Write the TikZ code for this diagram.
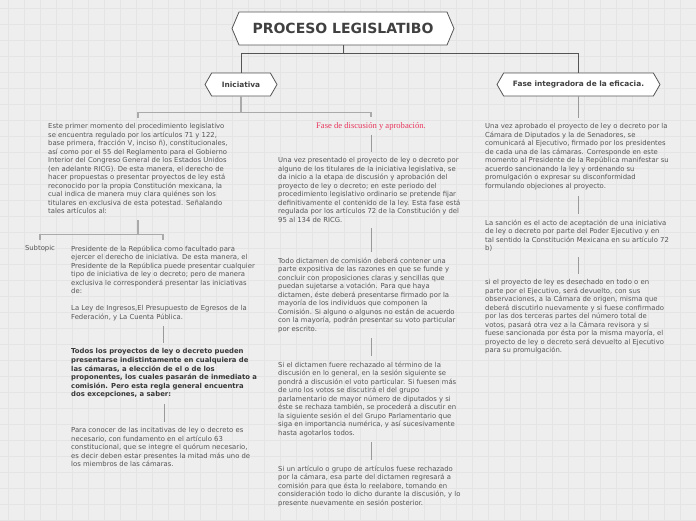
\documentclass[tikz,border=0pt]{standalone}
\usepackage{fontspec}
\setmainfont{DejaVu Sans}
\newfontfamily\redserif{Liberation Serif}
\usetikzlibrary{shapes.symbols}

\definecolor{bgpaper}{HTML}{EEEEEE}
\definecolor{gridgray}{HTML}{E4E4E4}
\definecolor{boxline}{HTML}{555555}
\definecolor{txtgray}{HTML}{555555}
\definecolor{linkgray}{HTML}{9A9A9A}
\definecolor{busgray}{HTML}{AAAAAA}
\definecolor{fasered}{HTML}{E8365D}

\tikzset{
  hexa/.style={signal, signal to=west and east, signal pointer angle=120,
    draw=boxline, fill=white, line width=0.8pt, text=black!75,
    font=\bfseries\fontsize{7.4}{9}\selectfont, minimum height=23pt},
  txt/.style={align=left, anchor=north west, inner xsep=0pt, inner ysep=5.5pt,
    text=txtgray, font=\fontsize{6.85}{8.5}\selectfont},
  toplink/.style={draw=boxline, line width=0.9pt},
  buslink/.style={draw=busgray, line width=1.2pt},
  link/.style={draw=linkgray, line width=0.9pt},
}

\begin{document}
\begin{tikzpicture}[x=1pt,y=-1pt]
  \useasboundingbox (0,0) rectangle (696,520);
  \fill[bgpaper] (0,0) rectangle (696,520);
  \foreach \gx in {8,24,...,696} \draw[gridgray,line width=0.4pt] (\gx,0)--(\gx,520);
  \foreach \gy in {8,24,...,520} \draw[gridgray,line width=0.4pt] (0,\gy)--(696,\gy);

  % main topics
  \node[hexa, minimum width=222pt, minimum height=33pt, signal pointer angle=134,
    font=\bfseries\fontsize{14}{16}\selectfont] (title) at (343,28.5) {PROCESO LEGISLATIBO};
  \node[hexa, minimum width=72pt] (ini) at (241,84.5) {Iniciativa};
  \node[hexa, minimum width=163pt] (efic) at (578.5,84.5) {Fase integradora de la eficacia.};
  \draw[toplink] (title.south) -- ++(0,8) -| (ini.north);
  \draw[toplink] (title.south) ++(0,8) -| (efic.north);

  % Iniciativa
  \node[txt] (intro) at (48,118) {Este primer momento del procedimiento legislativo\\
    se encuentra regulado por los artículos 71 y 122,\\
    base primera, fracción V, inciso ñ), constitucionales,\\
    así como por el 55 del Reglamento para el Gobierno\\
    Interior del Congreso General de los Estados Unidos\\
    (en adelante RICG). De esta manera, el derecho de\\
    hacer propuestas o presentar proyectos de ley está\\
    reconocido por la propia Constitución mexicana, la\\
    cual indica de manera muy clara quiénes son los\\
    titulares en exclusiva de esta potestad. Señalando\\
    tales artículos al:};
  \node[font=\redserif\fontsize{8.6}{10}\selectfont, text=fasered, minimum height=17pt,
    inner sep=0pt] (fase) at (371,126) {Fase de discusión y aprobación.};
  \draw[buslink] (ini.south) -- ++(0,16) -| (intro.north);
  \draw[buslink] (ini.south) ++(0,16) -| (fase.north);

  \node[txt] (pres) at (71,240) {Presidente de la República como facultado para\\
    ejercer el derecho de iniciativa. De esta manera, el\\
    Presidente de la República puede presentar cualquier\\
    tipo de iniciativa de ley o decreto; pero de manera\\
    exclusiva le corresponderá presentar las iniciativas\\
    de:\\[8.5pt]
    La Ley de Ingresos,El Presupuesto de Egresos de la\\
    Federación, y La Cuenta Pública.};
  \node[txt, anchor=north] (subt) at (40,240) {Subtopic};
  \draw[buslink] (intro.south) -- ++(0,15) -| (subt.north);
  \draw[buslink] (intro.south) ++(0,15) -| (pres.north);

  \node[txt, text=black!78, font=\bfseries\fontsize{6.85}{8.6}\selectfont] (todos) at (71,343)
    {Todos los proyectos de ley o decreto pueden\\
    presentarse indistintamente en cualquiera de\\
    las cámaras, a elección de el o de los\\
    proponentes, los cuales pasarán de inmediato a\\
    comisión. Pero esta regla general encuentra\\
    dos excepciones, a saber:};
  \node[txt] (para) at (71,422) {Para conocer de las incitativas de ley o decreto es\\
    necesario, con fundamento en el artículo 63\\
    constitucional, que se integre el quórum necesario,\\
    es decir deben estar presentes la mitad más uno de\\
    los miembros de las cámaras.};
  \draw[link] (pres.south) -- (pres.south |- todos.north);
  \draw[link] (todos.south) -- (todos.south |- para.north);

  % Fase de discusion
  \node[txt] (disc1) at (278,152) {Una vez presentado el proyecto de ley o decreto por\\
    alguno de los titulares de la iniciativa legislativa, se\\
    da inicio a la etapa de discusión y aprobación del\\
    proyecto de ley o decreto; en este periodo del\\
    procedimiento legislativo ordinario se pretende fijar\\
    definitivamente el contenido de la ley. Esta fase está\\
    regulada por los artículos 72 de la Constitución y del\\
    95 al 134 de RICG.};
  \node[txt] (disc2) at (278,252) {Todo dictamen de comisión deberá contener una\\
    parte expositiva de las razones en que se funde y\\
    concluir con proposiciones claras y sencillas que\\
    puedan sujetarse a votación. Para que haya\\
    dictamen, éste deberá presentarse firmado por la\\
    mayoría de los individuos que componen la\\
    Comisión. Si alguno o algunos no están de acuerdo\\
    con la mayoría, podrán presentar su voto particular\\
    por escrito.};
  \node[txt] (disc3) at (278,356) {Si el dictamen fuere rechazado al término de la\\
    discusión en lo general, en la sesión siguiente se\\
    pondrá a discusión el voto particular. Si fuesen más\\
    de uno los votos se discutirá el del grupo\\
    parlamentario de mayor número de diputados y si\\
    éste se rechaza también, se procederá a discutir en\\
    la siguiente sesión el del Grupo Parlamentario que\\
    siga en importancia numérica, y así sucesivamente\\
    hasta agotarlos todos.};
  \node[txt] (disc4) at (278,460) {Si un artículo o grupo de artículos fuese rechazado\\
    por la cámara, esa parte del dictamen regresará a\\
    comisión para que ésta lo reelabore, tomando en\\
    consideración todo lo dicho durante la discusión, y lo\\
    presente nuevamente en sesión posterior.};
  \draw[link] (fase.south) -- (fase.south |- disc1.north);
  \draw[link] (fase.south |- disc1.south) -- (fase.south |- disc2.north);
  \draw[link] (fase.south |- disc2.south) -- (fase.south |- disc3.north);
  \draw[link] (fase.south |- disc3.south) -- (fase.south |- disc4.north);

  % Fase integradora
  \node[txt] (efic1) at (485,118) {Una vez aprobado el proyecto de ley o decreto por la\\
    Cámara de Diputados y la de Senadores, se\\
    comunicará al Ejecutivo, firmado por los presidentes\\
    de cada una de las cámaras. Corresponde en este\\
    momento al Presidente de la República manifestar su\\
    acuerdo sancionando la ley y ordenando su\\
    promulgación o expresar su disconformidad\\
    formulando objeciones al proyecto.};
  \node[txt] (efic2) at (485,214) {La sanción es el acto de aceptación de una iniciativa\\
    de ley o decreto por parte del Poder Ejecutivo y en\\
    tal sentido la Constitución Mexicana en su artículo 72\\
    b)};
  \node[txt] (efic3) at (485,274) {si el proyecto de ley es desechado en todo o en\\
    parte por el Ejecutivo, será devuelto, con sus\\
    observaciones, a la Cámara de origen, misma que\\
    deberá discutirlo nuevamente y si fuese confirmado\\
    por las dos terceras partes del número total de\\
    votos, pasará otra vez a la Cámara revisora y si\\
    fuese sancionada por ésta por la misma mayoría, el\\
    proyecto de ley o decreto será devuelto al Ejecutivo\\
    para su promulgación.};
  \draw[link] (efic.south) -- (efic.south |- efic1.north);
  \draw[link] (efic.south |- efic1.south) -- (efic.south |- efic2.north);
  \draw[link] (efic.south |- efic2.south) -- (efic.south |- efic3.north);
\end{tikzpicture}
\end{document}
